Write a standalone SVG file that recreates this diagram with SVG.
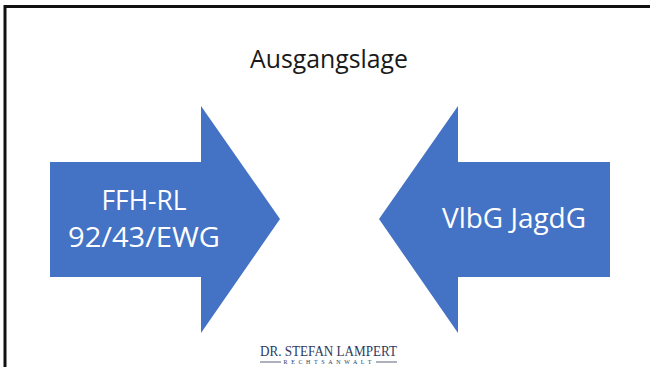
<svg xmlns="http://www.w3.org/2000/svg" width="650" height="367" viewBox="0 0 650 367">
<style>
.arrow{fill:#4472C4;}
.lbl{font-family:"Open Sans","Liberation Sans",sans-serif;font-size:27px;fill:#ffffff;text-anchor:middle;}
.title{font-family:"Open Sans","Liberation Sans",sans-serif;font-size:26px;fill:#1a1a1a;text-anchor:middle;}
.logo{font-family:"Liberation Serif",serif;fill:#2E3A5C;text-anchor:middle;}
</style>
<rect width="650" height="367" fill="#ffffff"/>
<g id="frame">
<path d="M5,367 V6.5 H650" fill="none" stroke="#111" stroke-width="3"/>
</g>
<g id="title"><text class="title" x="329" y="68" textLength="158" lengthAdjust="spacingAndGlyphs">Ausgangslage</text></g>
<g id="node-ffh">
<polygon class="arrow" points="50,162 201,162 201,106 280,219 201,333 201,277 50,277"/>
<text class="lbl" x="144" y="210" textLength="85" lengthAdjust="spacingAndGlyphs">FFH-RL</text>
<text class="lbl" x="144" y="247" textLength="152" lengthAdjust="spacingAndGlyphs">92/43/EWG</text>
</g>
<g id="node-vlbg">
<polygon class="arrow" points="610,162 458,162 458,106 379,219 458,333 458,277 610,277"/>
<text class="lbl" x="514" y="228" textLength="144" lengthAdjust="spacingAndGlyphs">VlbG JagdG</text>
</g>
<g id="connectors"></g>
<g id="logo">
<text class="logo" x="328.5" y="356" font-size="15.5" textLength="137" lengthAdjust="spacingAndGlyphs">DR. STEFAN LAMPERT</text>
<text class="logo" x="328.5" y="364" font-size="6" letter-spacing="2.2" textLength="90" lengthAdjust="spacing">RECHTSANWALT</text>
<line x1="260" y1="362" x2="281" y2="362" stroke="#2E3A5C" stroke-width="0.8"/>
<line x1="376" y1="362" x2="397" y2="362" stroke="#2E3A5C" stroke-width="0.8"/>
</g>
</svg>
